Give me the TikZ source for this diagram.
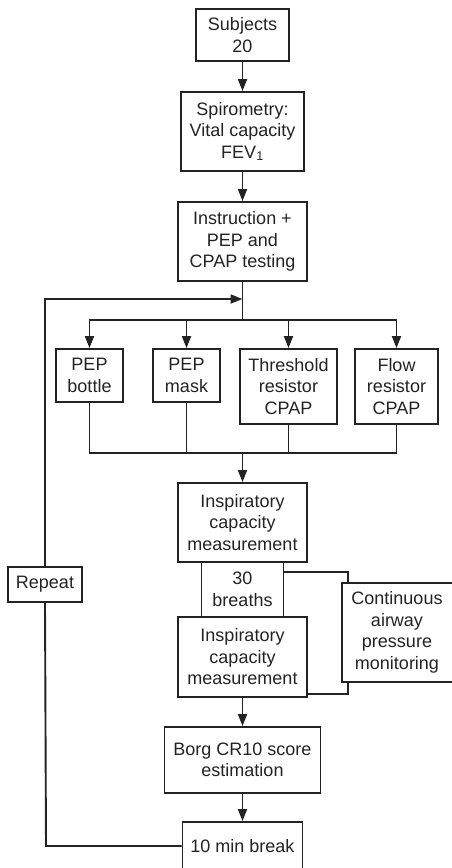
\documentclass[tikz,border=0pt]{standalone}
\usepackage{fontspec}
\setmainfont{Liberation Sans}
\usetikzlibrary{arrows.meta}
\definecolor{ink}{HTML}{232323}
\tikzset{
  box/.style={draw=ink, line width=1.9pt, text=ink, align=center, inner sep=0pt,
    font=\fontsize{18}{21.5}\selectfont},
  conn/.style={draw=ink, line width=1.9pt},
  arr/.style={conn, -{Triangle[length=12pt,width=9pt]}},
}
\begin{document}
\begin{tikzpicture}[x=1pt,y=-1pt]
\useasboundingbox (0,0) rectangle (452,868);
\clip (0,0) rectangle (452,868);
\node[box, minimum width=93pt, minimum height=52pt] (subj) at (242.5,35) {Subjects\\20};
\node[box, minimum width=123pt, minimum height=79pt] (spiro) at (242.5,131.5) {Spirometry:\\Vital capacity\\FEV\textsubscript{1}};
\node[box, minimum width=129pt, minimum height=79pt] (instr) at (242.5,241.5) {Instruction +\\PEP and\\CPAP testing};
\node[box, minimum width=67pt, minimum height=53pt] (bottle) at (89.5,375.5) {PEP\\bottle};
\node[box, minimum width=67pt, minimum height=53pt] (mask) at (186.5,375.5) {PEP\\mask};
\node[box, minimum width=97pt, minimum height=75pt] (thresh) at (288.5,386.5) {Threshold\\resistor\\CPAP};
\node[box, minimum width=83pt, minimum height=75pt] (flow) at (396.5,386.5) {Flow\\resistor\\CPAP};
\node[box, minimum width=129pt, minimum height=79pt] (insp1) at (242.5,522.5) {Inspiratory\\capacity\\measurement};
\node[box, minimum width=82pt, minimum height=55pt] (breaths) at (242.5,589.5) {30\\breaths};
\node[box, minimum width=129pt, minimum height=80pt] (insp2) at (242.5,657) {Inspiratory\\capacity\\measurement};
\node[box, minimum width=114pt, minimum height=99pt] (cont) at (399,632.5) {\hspace*{-4pt}Continuous\\\hspace*{-4pt}airway\\\hspace*{-4pt}pressure\\\hspace*{-4pt}monitoring};
\node[box, minimum width=74pt, minimum height=35pt] (rep) at (45,584.5) {Repeat};
\node[box, minimum width=156pt, minimum height=66pt] (borg) at (242.5,760) {Borg CR10 score\\estimation};
\node[box, minimum width=120pt, minimum height=48pt] (brk) at (242.5,846) {10 min break};
\coordinate (split) at (242.5,320);
\coordinate (loopin) at (242.5,299);
\coordinate (join) at (242.5,453);
\coordinate (ctop) at (348,572);
\coordinate (cbot) at (348,694);
\coordinate (lb) at (46,846);
\draw[arr] (subj.south) -- (spiro.north);
\draw[arr] (spiro.south) -- (instr.north);
\draw[conn] (instr.south) -- (split);
\draw[arr] (split) -| (bottle.north);
\draw[arr] (split) -| (mask.north);
\draw[arr] (split) -| (thresh.north);
\draw[arr] (split) -| (flow.north);
\draw[conn] (bottle.south) |- (join) -| (flow.south);
\draw[conn] (mask.south) -- (mask.south |- join);
\draw[conn] (thresh.south) -- (thresh.south |- join);
\draw[arr] (join) -- (insp1.north);
\draw[conn] (breaths.east |- ctop) -- (ctop) -- (ctop |- cont.north);
\draw[conn] (ctop |- cont.south) -- (cbot) -- (cbot -| insp2.east);
\draw[arr] (insp2.south) -- (borg.north);
\draw[arr] (borg.south) -- (brk.north);
\draw[conn] (brk.west) -- (lb) -- (rep.south);
\draw[arr] (rep.north) |- (loopin);
\end{tikzpicture}
\end{document}
